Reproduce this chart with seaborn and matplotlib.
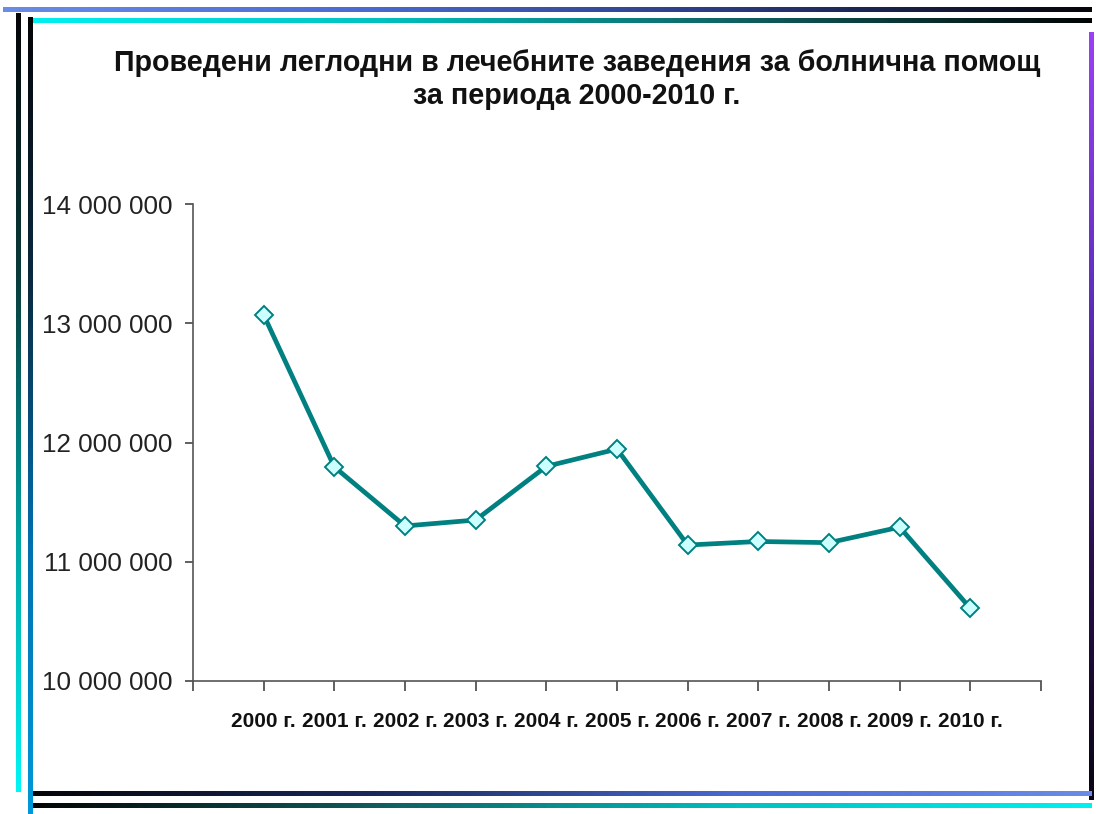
import numpy as np
import pandas as pd
import matplotlib
matplotlib.use("Agg")
import matplotlib.pyplot as plt
from matplotlib.colors import LinearSegmentedColormap
import seaborn as sns

years = ["2000 г.", "2001 г.", "2002 г.", "2003 г.", "2004 г.", "2005 г.",
         "2006 г.", "2007 г.", "2008 г.", "2009 г.", "2010 г."]
bed_days = [13070000, 11795000, 11300000, 11350000, 11800000, 11945000,
            11140000, 11170000, 11160000, 11290000, 10610000]
yticks = [10000000, 11000000, 12000000, 13000000, 14000000]
ytick_labels = ["10 000 000", "11 000 000", "12 000 000", "13 000 000", "14 000 000"]
title = "Проведени леглодни в лечебните заведения за болнична помощ\nза периода 2000-2010 г."

sns.set_theme(style="white")
plt.rcParams['font.family'] = ['Liberation Sans', 'DejaVu Sans']

W, H = 1096, 814
fig = plt.figure(figsize=(W / 100, H / 100), dpi=100)
fig.patch.set_facecolor("white")

# decorative frame
deco = fig.add_axes([0, 0, 1, 1])
deco.set_xlim(0, W)
deco.set_ylim(H, 0)
deco.axis("off")

def grad_bar(ax, x0, x1, y0, y1, colors, horizontal=True):
    cmap = LinearSegmentedColormap.from_list("g", colors)
    g = np.linspace(0, 1, 256)
    arr = g[np.newaxis, :] if horizontal else g[:, np.newaxis]
    ax.imshow(arr, cmap=cmap, extent=(x0, x1, y1, y0), aspect="auto",
              interpolation="bilinear", zorder=1)

t = 2.5
grad_bar(deco, 3, 1092, 10 - t, 10 + t, ["#6a8ce8", "#4a6ad0", "#2a3a80", "#05050a"])
grad_bar(deco, 30, 1092, 21 - t, 21 + t, ["#00f0f0", "#00c0c0", "#106060", "#020404"])
grad_bar(deco, 18 - t, 18 + t, 13, 792, ["#050508", "#0a3a3a", "#00a0a0", "#00f5f5"], horizontal=False)
grad_bar(deco, 30 - t, 30 + t, 17, 814, ["#050508", "#0a2a40", "#0070b0", "#0098d8"], horizontal=False)
grad_bar(deco, 1091 - t, 1091 + t, 32, 800, ["#9a40f5", "#6030c0", "#2a1050", "#0a0515"], horizontal=False)
grad_bar(deco, 33, 1092, 794 - t, 794 + t, ["#05050a", "#1a2a60", "#4a6ad0", "#6a8ce8"])
grad_bar(deco, 33, 1092, 806 - t, 806 + t, ["#020404", "#106060", "#00c0c0", "#00f0f0"])
deco.set_xlim(0, W)
deco.set_ylim(H, 0)

# main chart
ax = fig.add_axes([193 / W, 1 - 681 / H, (1041 - 193) / W, (681 - 204) / H])
df = pd.DataFrame({"x": np.arange(len(years)), "value": bed_days})
sns.lineplot(data=df, x="x", y="value", ax=ax, color="#008080", linewidth=3.4,
             marker="D", markersize=9.5, markerfacecolor="#ccffff",
             markeredgecolor="#008080", markeredgewidth=1.4)

ax.set_xlim(-1, len(years))
ax.set_ylim(yticks[0], yticks[-1])
ax.set_xticks(np.arange(-1, len(years) + 1))
ax.set_xticklabels([""] + years + [""], fontsize=15, fontweight="bold",
                   fontstretch="condensed", color="#111111")
for lab in ax.get_xticklabels():
    lab.set_family(['Liberation Sans Narrow', 'Liberation Sans', 'DejaVu Sans'])
ax.set_yticks(yticks)
ax.set_yticklabels(ytick_labels, fontsize=18.7, color="#222222")
ax.set_xlabel("")
ax.set_ylabel("")
ax.tick_params(axis="x", direction="out", length=7, width=1.2, color="#444444", pad=15.5)
ax.tick_params(axis="y", direction="out", length=6, width=1.2, color="#444444", pad=9)
ax.tick_params(left=True, bottom=True)
for s in ["top", "right"]:
    ax.spines[s].set_visible(False)
for s in ["left", "bottom"]:
    ax.spines[s].set_color("#555555")
    ax.spines[s].set_linewidth(1.2)
ax.grid(False)
ax.set_facecolor("none")

fig.text(577 / W, 1 - 79.5 / H, title, ha="center", va="center", fontsize=20.6,
         fontweight="bold", color="#111111", linespacing=1.25)

fig.savefig("out.png", dpi=100, facecolor="white")
